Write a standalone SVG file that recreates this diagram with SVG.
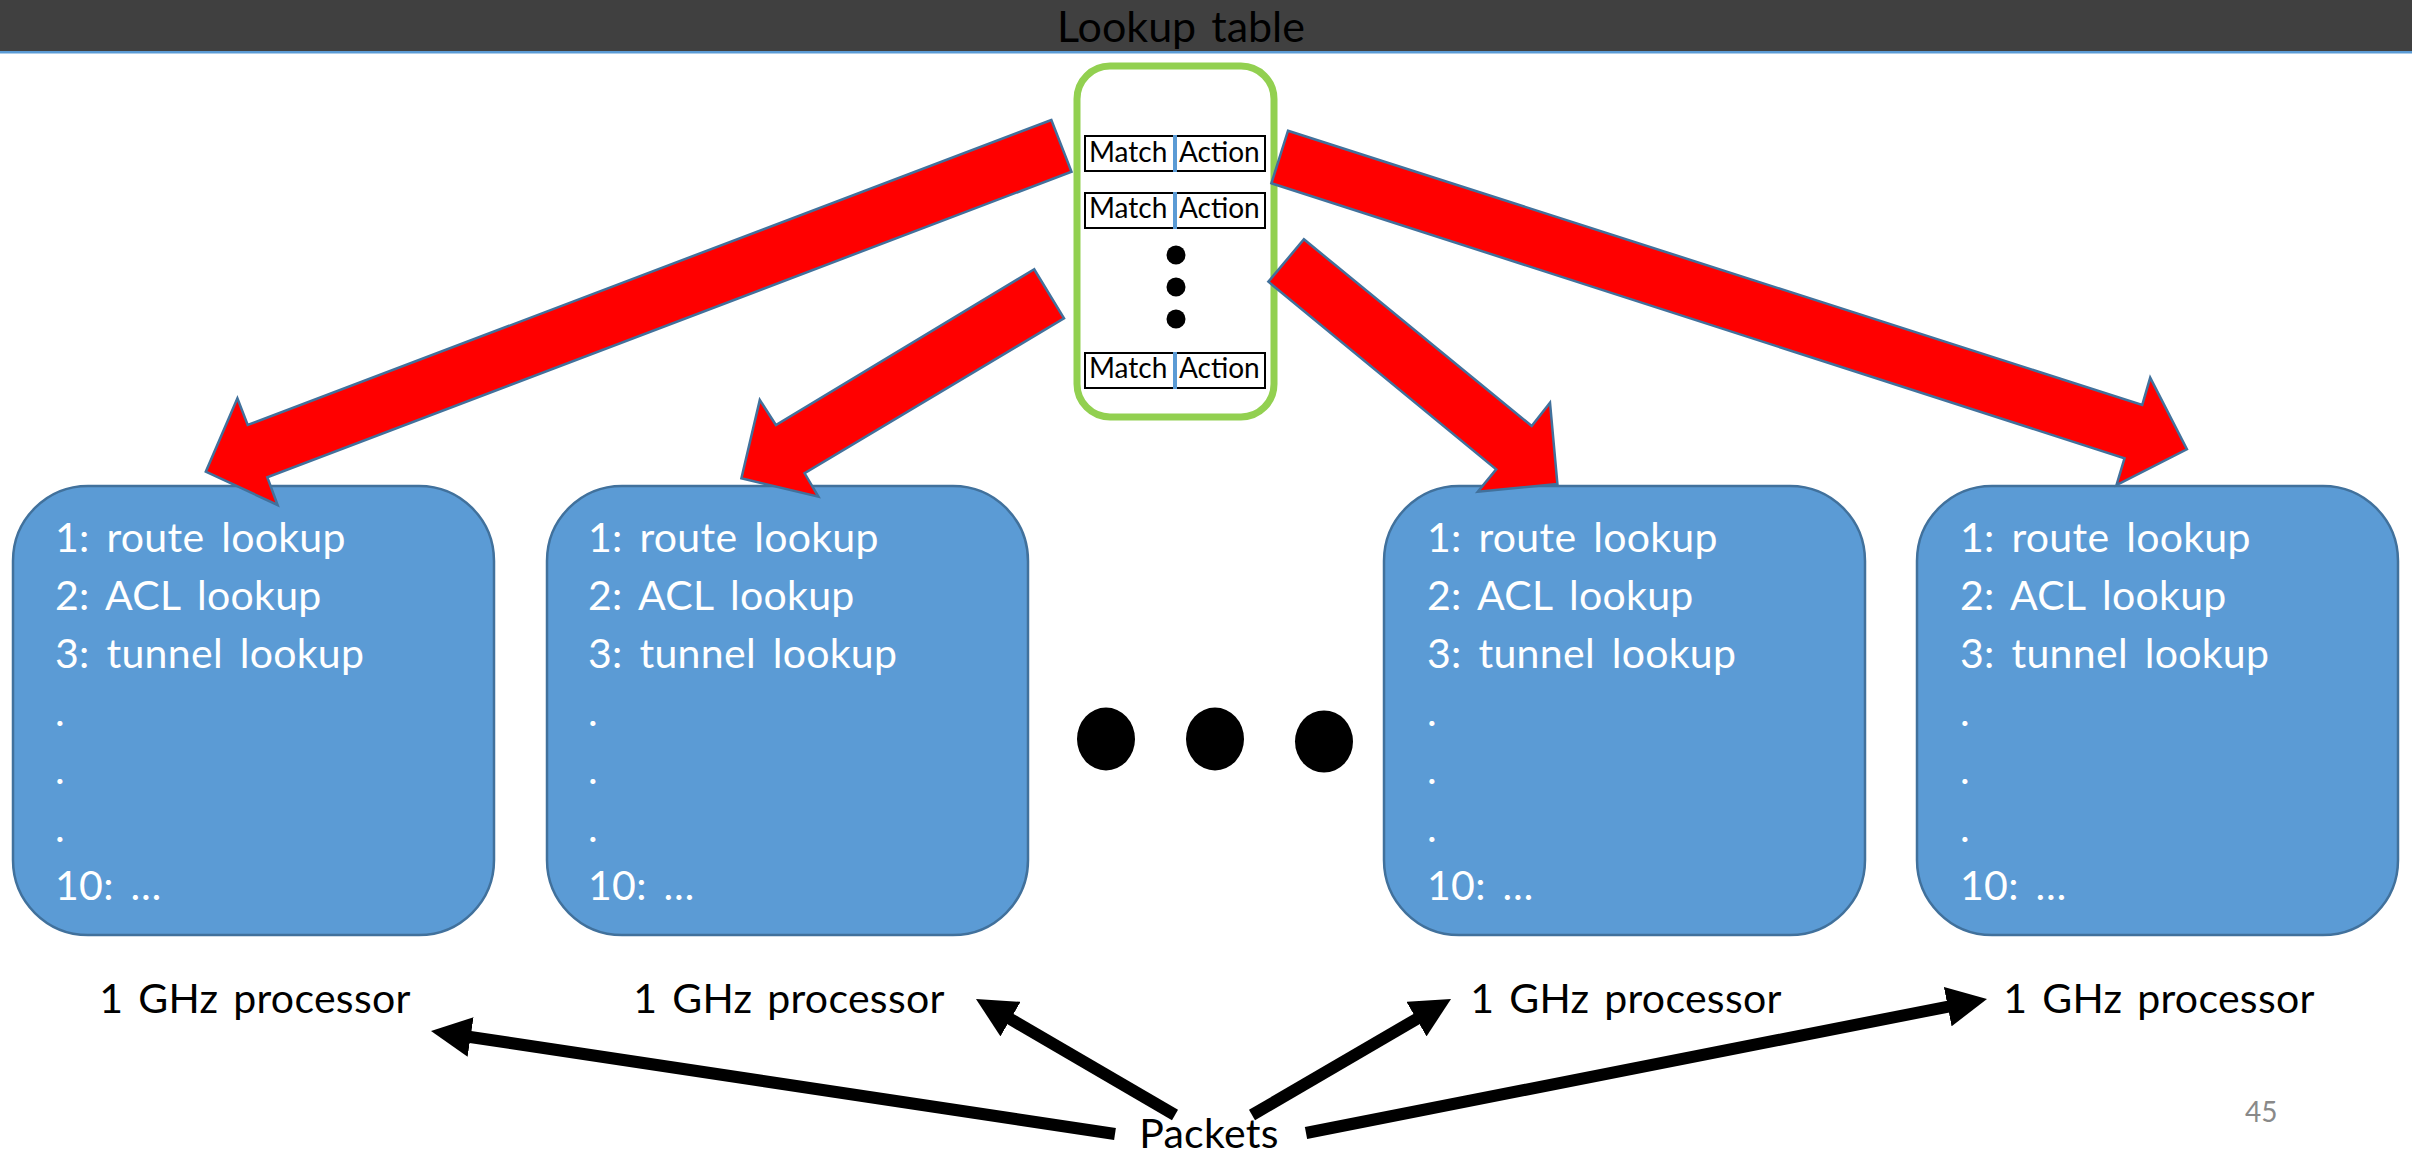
<svg xmlns="http://www.w3.org/2000/svg" width="2412" height="1153" viewBox="0 0 2412 1153">
  <style>
    .title { font-family: Lato, "Liberation Sans", sans-serif; font-size: 43px; word-spacing: 4px; fill: #000; }
    .proc { fill: #5B9BD5; stroke: #41719C; stroke-width: 2.5; }
    .proc-text { font-family: Lato, "Liberation Sans", sans-serif; font-size: 41px; word-spacing: 6px; letter-spacing: 0.3px; fill: #fff; }
    .label { font-family: Lato, "Liberation Sans", sans-serif; font-size: 41px; word-spacing: 4px; letter-spacing: 0.3px; fill: #000; }
    .cell { fill: #fff; stroke: #000; stroke-width: 2; }
    .cell-text { font-family: Lato, "Liberation Sans", sans-serif; font-size: 28px; fill: #000; }
    .divider { fill: #5B9BD5; }
    .big-arrow { fill: #FF0000; stroke: #41719C; stroke-width: 2.5; stroke-linejoin: miter; }
    .feed { stroke: #000; stroke-width: 12; fill: none; marker-end: url(#head); }
    .page { font-family: Lato, "Liberation Sans", sans-serif; font-size: 28px; fill: #898989; }
  </style>
  <defs>
    <marker id="head" markerUnits="userSpaceOnUse" markerWidth="40" markerHeight="40" viewBox="0 0 40 40" refX="2" refY="20" orient="auto">
      <path d="M0,0 L40,20 L0,40 z" fill="#000"/>
    </marker>
  </defs>

  <rect width="2412" height="1153" fill="#fff"/>

  <!-- title bar -->
  <g id="title-bar">
    <rect x="0" y="0" width="2412" height="51" fill="#404040"/>
    <rect x="0" y="51" width="2412" height="2.5" fill="#5B9BD5"/>
    <text class="title" x="1181" y="42" text-anchor="middle">Lookup table</text>
  </g>

  <!-- lookup table -->
  <g id="lookup-table">
    <rect x="1077" y="66" width="197" height="351" rx="33" ry="33" fill="#fff" stroke="#92D050" stroke-width="7"/>
    <rect class="cell" x="1085" y="136" width="180" height="35"/>
    <rect class="divider" x="1173" y="135" width="4" height="37"/>
    <text class="cell-text" x="1089" y="162">Match</text>
    <text class="cell-text" x="1179" y="162">Action</text>
    <rect class="cell" x="1085" y="193" width="180" height="35"/>
    <rect class="divider" x="1173" y="192" width="4" height="37"/>
    <text class="cell-text" x="1089" y="218">Match</text>
    <text class="cell-text" x="1179" y="218">Action</text>
    <circle cx="1176" cy="255" r="9.5" fill="#000"/>
    <circle cx="1176" cy="287" r="9.5" fill="#000"/>
    <circle cx="1176" cy="319" r="9.5" fill="#000"/>
    <rect class="cell" x="1085" y="353" width="180" height="35"/>
    <rect class="divider" x="1173" y="352" width="4" height="37"/>
    <text class="cell-text" x="1089" y="378">Match</text>
    <text class="cell-text" x="1179" y="378">Action</text>
  </g>

  <!-- processors -->
  <g id="processor-1">
    <rect class="proc" x="13" y="486" width="481" height="449" rx="75" ry="75"/>
    <text class="proc-text" x="55" y="552">1: route lookup</text>
    <text class="proc-text" x="55" y="610">2: ACL lookup</text>
    <text class="proc-text" x="55" y="668">3: tunnel lookup</text>
    <text class="proc-text" x="55" y="726">.</text>
    <text class="proc-text" x="55" y="784">.</text>
    <text class="proc-text" x="55" y="842">.</text>
    <text class="proc-text" x="55" y="900">10: …</text>
    <text class="label" x="255" y="1013" text-anchor="middle">1 GHz processor</text>
  </g>
  <g id="processor-2">
    <rect class="proc" x="547" y="486" width="481" height="449" rx="75" ry="75"/>
    <text class="proc-text" x="588" y="552">1: route lookup</text>
    <text class="proc-text" x="588" y="610">2: ACL lookup</text>
    <text class="proc-text" x="588" y="668">3: tunnel lookup</text>
    <text class="proc-text" x="588" y="726">.</text>
    <text class="proc-text" x="588" y="784">.</text>
    <text class="proc-text" x="588" y="842">.</text>
    <text class="proc-text" x="588" y="900">10: …</text>
    <text class="label" x="789" y="1013" text-anchor="middle">1 GHz processor</text>
  </g>
  <g id="processor-3">
    <rect class="proc" x="1384" y="486" width="481" height="449" rx="75" ry="75"/>
    <text class="proc-text" x="1427" y="552">1: route lookup</text>
    <text class="proc-text" x="1427" y="610">2: ACL lookup</text>
    <text class="proc-text" x="1427" y="668">3: tunnel lookup</text>
    <text class="proc-text" x="1427" y="726">.</text>
    <text class="proc-text" x="1427" y="784">.</text>
    <text class="proc-text" x="1427" y="842">.</text>
    <text class="proc-text" x="1427" y="900">10: …</text>
    <text class="label" x="1626" y="1013" text-anchor="middle">1 GHz processor</text>
  </g>
  <g id="processor-4">
    <rect class="proc" x="1917" y="486" width="481" height="449" rx="75" ry="75"/>
    <text class="proc-text" x="1960" y="552">1: route lookup</text>
    <text class="proc-text" x="1960" y="610">2: ACL lookup</text>
    <text class="proc-text" x="1960" y="668">3: tunnel lookup</text>
    <text class="proc-text" x="1960" y="726">.</text>
    <text class="proc-text" x="1960" y="784">.</text>
    <text class="proc-text" x="1960" y="842">.</text>
    <text class="proc-text" x="1960" y="900">10: …</text>
    <text class="label" x="2159" y="1013" text-anchor="middle">1 GHz processor</text>
  </g>

  <!-- ellipsis between processors -->
  <g id="more-processors">
    <ellipse cx="1106" cy="739" rx="29" ry="31.5" fill="#000"/>
    <ellipse cx="1215" cy="739" rx="29" ry="31.5" fill="#000"/>
    <ellipse cx="1324" cy="741.5" rx="29" ry="31" fill="#000"/>
  </g>

  <g id="packets">
    <text class="label" x="1209" y="1148" text-anchor="middle" letter-spacing="0.8">Packets</text>
  </g>

  <!-- connectors -->
  <g id="connectors">
    <polygon class="big-arrow" points="1051.4,120 247.7,425 237.4,398.3 205.8,471.7 277.6,505 267.3,477.3 1071.5,171.7"/>
    <polygon class="big-arrow" points="1034.2,269.3 775.9,425 759.8,400 741.4,478.3 818.4,496.7 804.6,473.3 1064,318.3"/>
    <polygon class="big-arrow" points="1303.9,239.3 1531.7,426 1550,402.7 1557.4,484 1477.8,491.7 1496.2,469.3 1268.4,281.7"/>
    <polygon class="big-arrow" points="1288,130.7 2142.2,405 2150.2,377.7 2186.9,449.3 2116.5,485 2124.5,458.3 1271.4,183.3"/>

    <line class="feed" x1="1115" y1="1134" x2="468.6" y2="1036.7"/>
    <line class="feed" x1="1175" y1="1115" x2="1008.8" y2="1018.1"/>
    <line class="feed" x1="1252" y1="1115" x2="1418.2" y2="1018.1"/>
    <line class="feed" x1="1306" y1="1133" x2="1949.7" y2="1006.3"/>
  </g>

  <text class="page" x="2245" y="1122">45</text>
</svg>
